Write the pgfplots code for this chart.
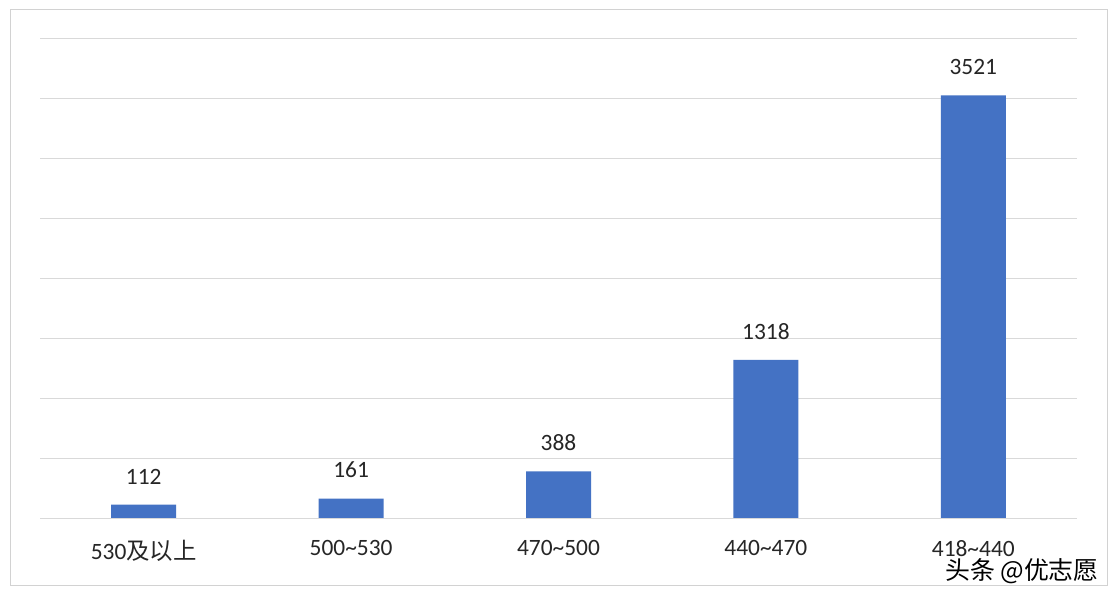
\documentclass[border=0pt]{standalone}
\usepackage{pgfplots}
\pgfplotsset{compat=1.18}
\usepackage{fontspec}
\setmainfont{Carlito}
\newfontfamily\cjk{Noto Sans CJK SC}
\definecolor{barblue}{RGB}{68,114,196}
\definecolor{gridgray}{RGB}{217,217,217}
\definecolor{framegray}{RGB}{210,210,210}
\begin{document}
\begin{tikzpicture}[x=1bp,y=1bp]
\fill[white] (0,0) rectangle (1116,596);
\draw[framegray, line width=0.8bp] (10.5,11) rectangle (1107,587);
\begin{axis}[
  at={(40bp,78bp)}, anchor=south west,
  scale only axis, width=1037bp, height=480bp,
  xmin=-0.5, xmax=4.5, ymin=0, ymax=4000,
  ytick={0,500,...,4000}, yticklabels={},
  ymajorgrids, grid style={gridgray, line width=0.8bp},
  axis line style={draw=none}, tick style={draw=none},
  xtick=data,
  xticklabels={530{\cjk 及以上}, 500\textasciitilde530, 470\textasciitilde500, 440\textasciitilde470, 418\textasciitilde440},
  xticklabel style={font=\fontsize{23.5}{25}\selectfont, text=black!85, anchor=north, inner sep=0pt, yshift=-22bp},
  /pgf/number format/assume math mode=true,
  /pgf/number format/1000 sep={},
  nodes near coords,
  nodes near coords style={font=\fontsize{23.5}{25}\selectfont, text=black!85, anchor=south, yshift=17bp},
]
\addplot[ybar, bar width=65bp, fill=barblue, draw=none] coordinates {(0,112) (1,161) (2,388) (3,1318) (4,3521)};
\end{axis}
\node[font=\cjk\fontsize{25}{26}\selectfont, text=black, anchor=south east, inner sep=0pt] at (1099,12) {头条 @优志愿};
\end{tikzpicture}
\end{document}
